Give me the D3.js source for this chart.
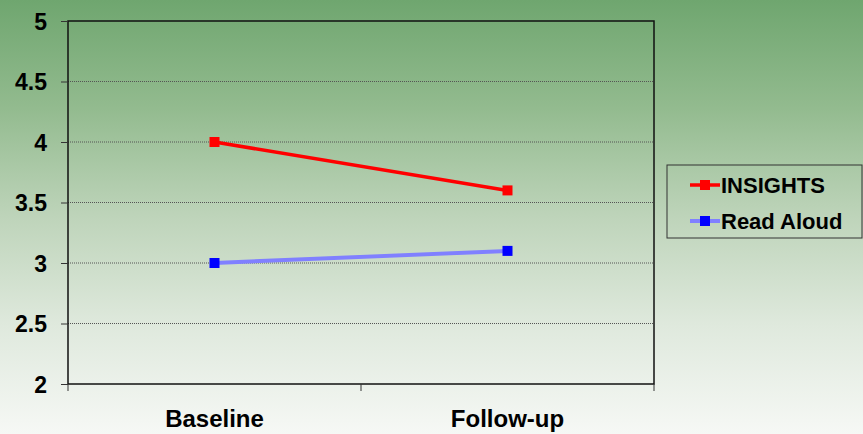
<!DOCTYPE html>
<html>
<head>
<meta charset="utf-8">
<script src="https://cdn.jsdelivr.net/npm/d3@7"></script>
<style>
  html, body { margin: 0; padding: 0; }
  svg { display: block; }
  text { font-family: "Liberation Sans", Arial, sans-serif; font-weight: bold; fill: #000; }
</style>
</head>
<body>
<svg id="chart" width="863" height="434"></svg>
<script>
// Chart data
const categories = ["Baseline", "Follow-up"];
const insights = [4.0, 3.6];
const readAloud = [3.0, 3.1];
const yTicks = [2, 2.5, 3, 3.5, 4, 4.5, 5];
const seriesNames = ["INSIGHTS", "Read Aloud"];

const W = 863, H = 434;
const svg = d3.select("#chart");

// Background gradient: green at top fading to near white
const defs = svg.append("defs");
const grad = defs.append("linearGradient").attr("id", "bg")
  .attr("x1", 0).attr("y1", 0).attr("x2", 0).attr("y2", 1);
grad.append("stop").attr("offset", "0%").attr("stop-color", "#6fa66f");
grad.append("stop").attr("offset", "25%").attr("stop-color", "#93bb8f");
grad.append("stop").attr("offset", "50%").attr("stop-color", "#bed4ba");
grad.append("stop").attr("offset", "75%").attr("stop-color", "#dfe9dd");
grad.append("stop").attr("offset", "100%").attr("stop-color", "#f6f8f5");
svg.append("rect").attr("width", W).attr("height", H).attr("fill", "url(#bg)");

const plot = { left: 68, right: 654, top: 21, bottom: 384 };

const x = d3.scaleBand().domain(categories).range([plot.left, plot.right]);
const y = d3.scaleLinear().domain([2, 5]).range([plot.bottom, plot.top]);

// Horizontal dotted gridlines
svg.append("g").selectAll("line")
  .data(yTicks.filter(t => t > 2 && t < 5))
  .join("line")
  .attr("x1", plot.left).attr("x2", plot.right)
  .attr("y1", d => y(d)).attr("y2", d => y(d))
  .attr("stroke", "#555").attr("stroke-width", 1)
  .attr("stroke-dasharray", "1,1");

// Plot frame
svg.append("rect")
  .attr("x", plot.left).attr("y", plot.top)
  .attr("width", plot.right - plot.left).attr("height", plot.bottom - plot.top)
  .attr("fill", "none").attr("stroke", "#111").attr("stroke-width", 1.5);

// Y axis
const yAxis = d3.axisLeft(y).tickValues(yTicks).tickSize(7).tickPadding(14)
  .tickFormat(d3.format(""));
const gy = svg.append("g").attr("transform", `translate(${plot.left},0)`).call(yAxis);
gy.select(".domain").remove();
gy.selectAll(".tick line").attr("stroke", "#333");
gy.selectAll("text").style("font-size", "23px").attr("dy", "0.35em");

// X axis: ticks at category boundaries
const xAxis = d3.axisBottom(x).tickSize(0).tickPadding(26);
const gx = svg.append("g").attr("transform", `translate(0,${plot.bottom})`).call(xAxis);
gx.select(".domain").remove();
gx.selectAll("text").style("font-size", "24px");
const boundaries = [plot.left, x(categories[1]), plot.right];
svg.append("g").selectAll("line").data(boundaries).join("line")
  .attr("x1", d => d).attr("x2", d => d)
  .attr("y1", plot.bottom).attr("y2", plot.bottom + 7)
  .attr("stroke", "#333").attr("stroke-width", 1);

const cx = c => x(c) + x.bandwidth() / 2;

const series = [
  { name: seriesNames[0], values: insights, line: "#ff0000", marker: "#ff0000", width: 3.5 },
  { name: seriesNames[1], values: readAloud, line: "#8080ff", marker: "#0000ff", width: 4 }
];

const lineGen = d3.line().x((d, i) => cx(categories[i])).y(d => y(d));
const ms = 10;

series.forEach(s => {
  svg.append("path").datum(s.values)
    .attr("d", lineGen).attr("fill", "none")
    .attr("stroke", s.line).attr("stroke-width", s.width);
  svg.append("g").selectAll("rect").data(s.values).join("rect")
    .attr("x", (d, i) => cx(categories[i]) - ms / 2)
    .attr("y", d => y(d) - ms / 2)
    .attr("width", ms).attr("height", ms)
    .attr("fill", s.marker);
});

// Legend
const lg = svg.append("g");
lg.append("rect").attr("x", 667).attr("y", 165).attr("width", 195).attr("height", 73)
  .attr("fill", "none").attr("stroke", "#333").attr("stroke-width", 1);
series.forEach((s, i) => {
  const ly = 185 + i * 36;
  lg.append("line").attr("x1", 690).attr("x2", 720).attr("y1", ly).attr("y2", ly)
    .attr("stroke", s.line).attr("stroke-width", s.width);
  lg.append("rect").attr("x", 705 - ms / 2).attr("y", ly - ms / 2)
    .attr("width", ms).attr("height", ms).attr("fill", s.marker);
  lg.append("text").attr("x", 721).attr("y", ly).attr("dy", "0.35em")
    .style("font-size", "22px").text(s.name);
});
</script>
</body>
</html>
